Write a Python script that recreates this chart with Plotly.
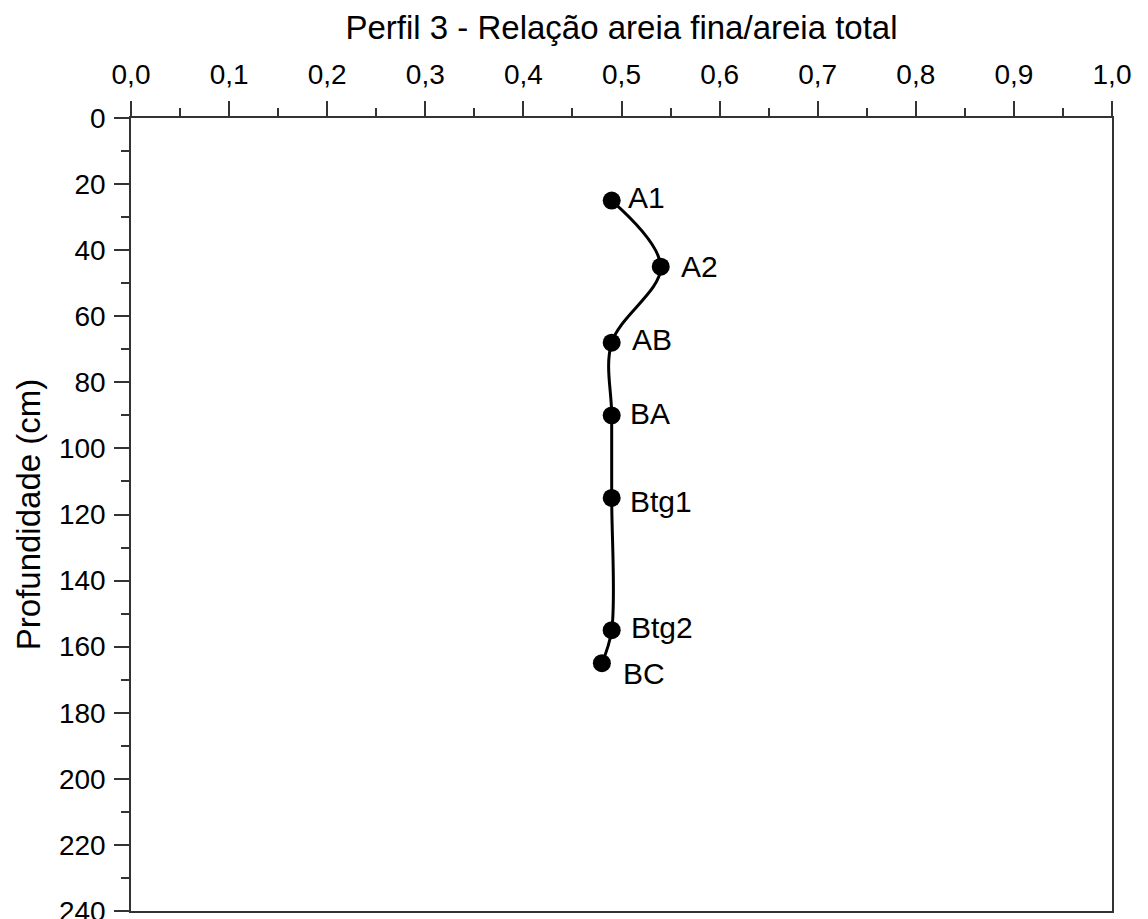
import plotly.graph_objects as go

horizontes = ["A1", "A2", "AB", "BA", "Btg1", "Btg2", "BC"]
relacao = [0.49, 0.54, 0.49, 0.49, 0.49, 0.49, 0.48]
profundidade = [25, 45, 68, 90, 115, 155, 165]

# label nudges (pixels) so the names sit like in the original
label_dx = [14, 18, 18, 16, 16, 17, 19]
label_dy = [3, 0, 3, 2, -4, 3, -10]

fonte = "Arial, Liberation Sans, sans-serif"

fig = go.Figure(go.Scatter(x=relacao, y=profundidade, mode="lines+markers",
                           line=dict(color="black", width=3, shape="spline"),
                           marker=dict(color="black", size=18),
                           showlegend=False, hoverinfo="skip"))

for nome, xv, yv, dx, dy in zip(horizontes, relacao, profundidade, label_dx, label_dy):
    fig.add_annotation(x=xv, y=yv, text=nome, showarrow=False,
                       xanchor="left", yanchor="middle", xshift=dx, yshift=dy,
                       font=dict(family=fonte, size=30, color="black"))

eixo = dict(showline=True, linecolor="#333", linewidth=1.5, mirror=True,
            ticks="outside", ticklen=15, tickwidth=1.5, tickcolor="#333",
            showgrid=False, zeroline=False, automargin=False,
            tickfont=dict(family=fonte, size=28, color="black"))

fig.update_xaxes(eixo, side="top", range=[0, 1], dtick=0.1, tick0=0, tickformat=".1f",
                 ticklabelstandoff=6,
                 minor=dict(dtick=0.05, ticks="outside", ticklen=8, tickcolor="#333", tickwidth=1.5))
fig.update_yaxes(eixo, range=[240, 0], dtick=20, tick0=0, ticklabelstandoff=3,
                 ticklabeloverflow="allow",
                 minor=dict(dtick=10, ticks="outside", ticklen=8, tickcolor="#333", tickwidth=1.5),
                 title=dict(text="Profundidade (cm)", standoff=8,
                            font=dict(family=fonte, size=33, color="black")))

fig.update_layout(width=1140, height=911, separators=",.",
                  margin=dict(l=123, r=36, t=110, b=8),
                  title=dict(text="Perfil 3 - Relação areia fina/areia total",
                             x=0.5, xref="paper", xanchor="center",
                             y=0.979, yref="container", yanchor="middle",
                             font=dict(family=fonte, size=33, color="black")),
                  paper_bgcolor="white", plot_bgcolor="white")

fig.write_html("out.html")
